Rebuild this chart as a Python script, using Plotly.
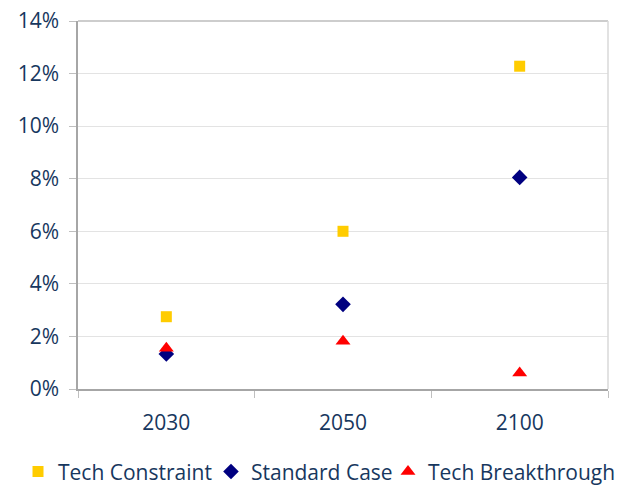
import plotly.graph_objects as go

years = ["2030", "2050", "2100"]
tech_constraint = [0.0275, 0.060, 0.1228]
standard_case = [0.0133, 0.0322, 0.0805]
tech_breakthrough = [0.0155, 0.0182, 0.0061]
y_ticks = [0, 0.02, 0.04, 0.06, 0.08, 0.10, 0.12, 0.14]
y_tick_labels = ["0%", "2%", "4%", "6%", "8%", "10%", "12%", "14%"]

text_color = "#17375E"
font_family = "'Open Sans', sans-serif"

fig = go.Figure()
fig.add_trace(go.Scatter(x=years, y=tech_constraint, mode="markers", name="Tech Constraint",
                         legend="legend",
                         marker=dict(symbol="square", size=11, color="#FFCC00")))
fig.add_trace(go.Scatter(x=years, y=standard_case, mode="markers", name="Standard Case",
                         legend="legend2",
                         marker=dict(symbol="diamond", size=12, color="#000080")))
fig.add_trace(go.Scatter(x=years, y=tech_breakthrough, mode="markers", name="Tech Breakthrough",
                         legend="legend3",
                         marker=dict(symbol="triangle-up", size=13, color="#FF0000")))

leg_common = dict(orientation="h", yanchor="middle", xanchor="left", y=-0.225,
                  font=dict(size=21, color=text_color, family=font_family),
                  itemwidth=30, bgcolor="rgba(0,0,0,0)")

fig.update_layout(
    width=617, height=486,
    margin=dict(l=78, r=9, t=21, b=97, autoexpand=False),
    paper_bgcolor="white", plot_bgcolor="white",
    font=dict(family=font_family, color=text_color, size=21),
    showlegend=True,
    legend=dict(x=-0.1132, **leg_common),
    legend2=dict(x=0.2509, **leg_common),
    legend3=dict(x=0.5849, **leg_common),
    xaxis=dict(type="category", range=[-0.5, 2.5], showgrid=False,
               showline=True, linecolor="#A6A6A6", linewidth=1.5,
               ticks="outside", tickson="boundaries", ticklen=7, tickcolor="#BFBFBF",
               ticklabelstandoff=14,
               tickfont=dict(size=21, color=text_color)),
    yaxis=dict(range=[0, 0.14], tickvals=y_ticks, ticktext=y_tick_labels,
               showgrid=True, gridcolor="#E3E3E3", gridwidth=1.2,
               showline=True, linecolor="#A6A6A6", linewidth=1.5,
               ticks="outside", ticklen=7, tickcolor="#BFBFBF",
               ticklabelstandoff=6,
               tickfont=dict(size=21, color=text_color), zeroline=False),
    shapes=[
        dict(type="line", xref="paper", yref="paper", x0=0, x1=1, y0=1, y1=1,
             line=dict(color="#BDBDBD", width=1.5)),
        dict(type="line", xref="paper", yref="paper", x0=1, x1=1, y0=0, y1=1,
             line=dict(color="#D9D9D9", width=1.5)),
    ],
)

fig.write_html("out.html", config={"displayModeBar": False},
               post_script="document.body.style.margin='0';document.body.style.overflow='hidden';")
